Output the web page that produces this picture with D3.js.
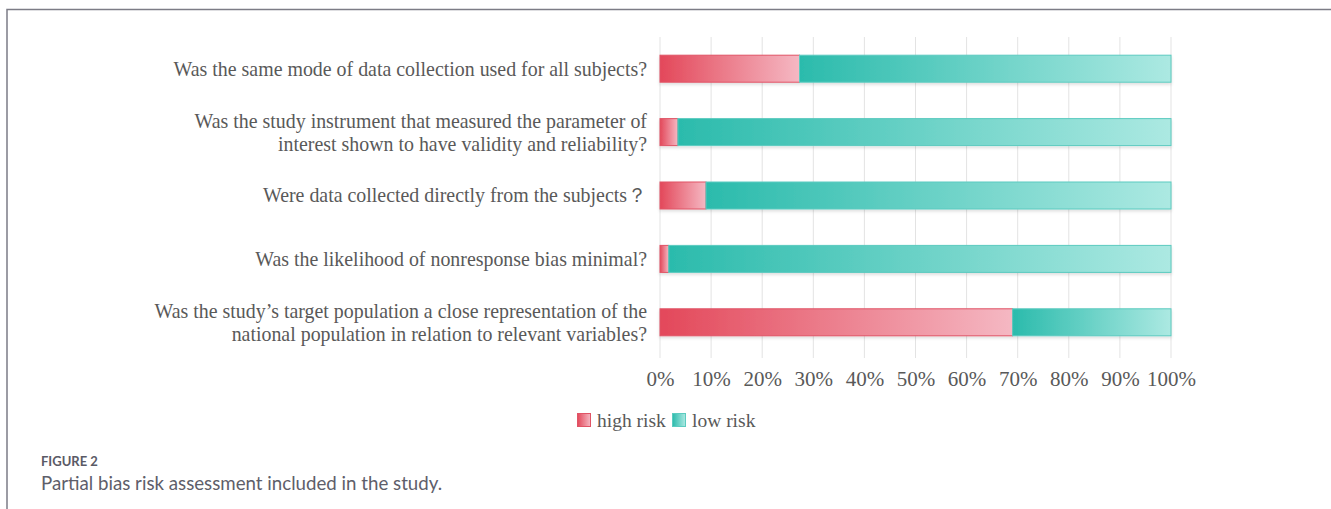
<!DOCTYPE html>
<html>
<head>
<meta charset="utf-8">
<script src="https://cdn.jsdelivr.net/npm/d3@7"></script>
<style>
  body { margin: 0; background: #fff; }
  #chart { width: 1331px; height: 509px; }
</style>
</head>
<body>
<div id="chart"></div>
<script>
// data //
const questions = [
  ["Was the same mode of data collection used for all subjects?"],
  ["Was the study instrument that measured the parameter of", "interest shown to have validity and reliability?"],
  ["Were data collected directly from the subjects\uFF1F"],
  ["Was the likelihood of nonresponse bias minimal?"],
  ["Was the study\u2019s target population a close representation of the", "national population in relation to relevant variables?"]
];
const highRisk = [27.3, 3.5, 9.0, 1.7, 69.0];
const lowRisk = [72.7, 96.5, 91.0, 98.3, 31.0];
const seriesNames = ["high risk", "low risk"];
const tickValues = [0, 10, 20, 30, 40, 50, 60, 70, 80, 90, 100];

const W = 1331, H = 509;
const svg = d3.select("#chart").append("svg")
  .attr("width", W).attr("height", H);

// gradients
const defs = svg.append("defs");
const grads = [
  { id: "gradHigh", from: "#e3485a", to: "#f5b8c3", stroke: "#e05466" },
  { id: "gradLow", from: "#2bbbac", to: "#ace9e2", stroke: "#5ccbc0" }
];
grads.forEach(g => {
  const lg = defs.append("linearGradient").attr("id", g.id)
    .attr("x1", "0%").attr("x2", "100%").attr("y1", "0%").attr("y2", "0%");
  lg.append("stop").attr("offset", "0%").attr("stop-color", g.from);
  lg.append("stop").attr("offset", "100%").attr("stop-color", g.to);
});
const shadow = defs.append("filter").attr("id", "shadow")
  .attr("x", "-5%").attr("y", "-20%").attr("width", "110%").attr("height", "160%");
shadow.append("feDropShadow").attr("dx", 0).attr("dy", 2).attr("stdDeviation", 1.5)
  .attr("flood-color", "#000").attr("flood-opacity", 0.12);

// frame
svg.append("path")
  .attr("d", `M7,${H} L7,9.5 L${W},9.5`)
  .attr("fill", "none").attr("stroke", "#7c7c86").attr("stroke-width", 1.5);

const x = d3.scaleLinear().domain([0, 100]).range([660, 1171]);
const y = d3.scaleBand().domain(d3.range(questions.length))
  .range([37, 354]).paddingInner(0.574).paddingOuter(0.287);

// gridlines
svg.append("g").selectAll("line").data(tickValues).join("line")
  .attr("x1", d => x(d)).attr("x2", d => x(d))
  .attr("y1", 37).attr("y2", 358)
  .attr("stroke", "#e3e3e3").attr("stroke-width", 1);

// bars
const rows = questions.map((q, i) => ({ i, high: highRisk[i], low: lowRisk[i] }));
const barG = svg.append("g").attr("filter", "url(#shadow)");
barG.selectAll("rect.high").data(rows).join("rect")
  .attr("class", "high")
  .attr("x", d => x(0)).attr("y", d => y(d.i))
  .attr("width", d => x(d.high) - x(0)).attr("height", y.bandwidth())
  .attr("fill", "url(#gradHigh)").attr("stroke", grads[0].stroke).attr("stroke-width", 1);
barG.selectAll("rect.low").data(rows).join("rect")
  .attr("class", "low")
  .attr("x", d => x(d.high)).attr("y", d => y(d.i))
  .attr("width", d => x(d.high + d.low) - x(d.high)).attr("height", y.bandwidth())
  .attr("fill", "url(#gradLow)").attr("stroke", grads[1].stroke).attr("stroke-width", 1);

// category labels
const font = "'Liberation Serif', 'DejaVu Serif', serif";
const lab = svg.append("g").selectAll("text").data(questions).join("text")
  .attr("text-anchor", "end")
  .attr("font-family", font).attr("font-size", 19.9)
  .attr("fill", "#595959");
lab.each(function(lines, i) {
  const cy = y(i) + y.bandwidth() / 2;
  const lh = 23;
  const start = cy - (lines.length - 1) * lh / 2;
  d3.select(this).selectAll("tspan").data(lines).join("tspan")
    .attr("x", 647).attr("y", (d, k) => start + k * lh)
    .attr("dy", "0.35em").text(d => d);
});

// x axis
const xAxis = svg.append("g").attr("transform", "translate(0,358)")
  .call(d3.axisBottom(x).tickValues(tickValues).tickFormat(d => d + "%").tickSize(0).tickPadding(13));
xAxis.select(".domain").remove();
xAxis.selectAll("text").attr("font-family", font).attr("font-size", 21).attr("fill", "#595959");

// legend
const legend = svg.append("g").attr("transform", "translate(577,413)");
const legItems = [{ name: seriesNames[0], g: grads[0], x: 0 }, { name: seriesNames[1], g: grads[1], x: 95 }];
legItems.forEach(it => {
  legend.append("rect").attr("x", it.x + 0.5).attr("y", 0.5).attr("width", 13).attr("height", 13)
    .attr("fill", `url(#${it.g.id})`).attr("stroke", it.g.stroke);
  legend.append("text").attr("x", it.x + 20).attr("y", 7).attr("dy", "0.35em")
    .attr("font-family", font).attr("font-size", 19.5).attr("fill", "#595959").text(it.name);
});

// caption
svg.append("text").attr("x", 41).attr("y", 466)
  .attr("font-family", "Lato, 'Open Sans', sans-serif").attr("font-size", 13).attr("font-weight", 700)
  .attr("fill", "#5a5a66").text("FIGURE 2");
svg.append("text").attr("x", 41).attr("y", 490)
  .attr("font-family", "Lato, 'Open Sans', sans-serif").attr("font-size", 18.7)
  .attr("fill", "#5e5e6a").text("Partial bias risk assessment included in the study.");
</script>
</body>
</html>
